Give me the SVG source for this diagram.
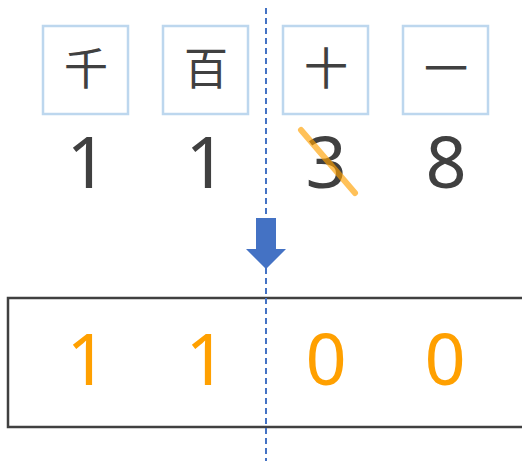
<svg xmlns="http://www.w3.org/2000/svg" width="522" height="461" viewBox="0 0 522 461">
<style>
.box{fill:#fff;stroke:#BDD7EE;stroke-width:2.5}
.kanji{font-family:"Noto Sans CJK JP","Noto Sans",sans-serif;font-size:44px;fill:#404040;text-anchor:middle}
.dig{font-family:"Noto Sans","Liberation Sans",sans-serif;font-size:72px;fill:#404040;text-anchor:middle}
.res{font-family:"Noto Sans","Liberation Sans",sans-serif;font-size:72px;fill:#FFA000;text-anchor:middle}
</style>
<rect width="522" height="461" fill="#fff"/>
<g id="result">
<rect x="8" y="298" width="520" height="129" fill="none" stroke="#404040" stroke-width="2.5"/>
<text class="res" x="87" y="385">1</text>
<text class="res" x="206" y="385">1</text>
<text class="res" x="326" y="385">0</text>
<text class="res" x="445" y="385">0</text>
</g>
<g id="sen">
<rect class="box" x="43" y="26" width="85" height="88"/>
<text class="kanji" x="86" y="85">千</text>
<text class="dig" x="87" y="188">1</text>
</g>
<g id="hyaku">
<rect class="box" x="163" y="26" width="85" height="88"/>
<text class="kanji" x="206" y="85">百</text>
<text class="dig" x="206" y="188">1</text>
</g>
<g id="juu">
<rect class="box" x="283" y="26" width="85" height="88"/>
<text class="kanji" x="326" y="85">十</text>
<text class="dig" x="326" y="188">3</text>
</g>
<g id="ichi">
<rect class="box" x="403" y="26" width="85" height="88"/>
<text class="kanji" x="446" y="85">一</text>
<text class="dig" x="446" y="188">8</text>
</g>
<g id="connectors">
<line x1="301" y1="130" x2="355" y2="193" stroke="#FFA000" stroke-opacity="0.65" stroke-width="6" stroke-linecap="round"/>
<line x1="266" y1="8" x2="266" y2="461" stroke="#4472C4" stroke-width="2" stroke-dasharray="6 4"/>
<polygon points="256,218 276,218 276,249 286,249 266,269 246,249 256,249" fill="#4472C4"/>
</g>
</svg>
